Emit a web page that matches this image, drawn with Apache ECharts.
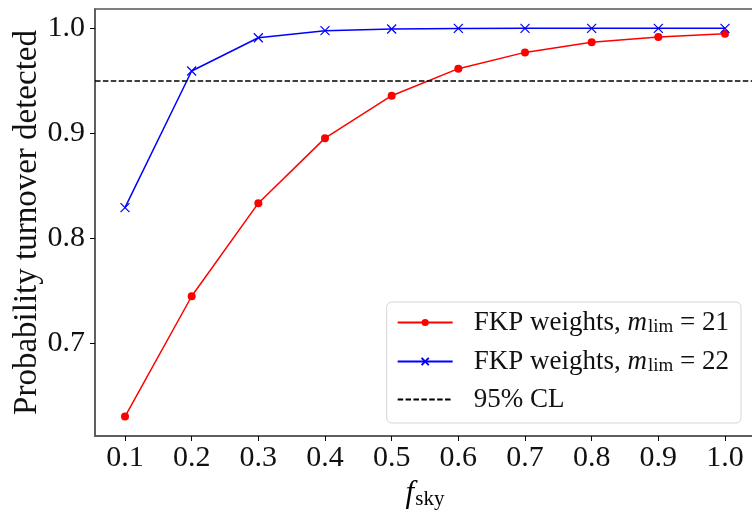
<!DOCTYPE html>
<html>
<head>
<meta charset="utf-8">
<script src="https://cdn.jsdelivr.net/npm/echarts@6/dist/echarts.min.js"></script>
<style>
  html, body { margin: 0; padding: 0; background: #fff; }
  #chart { width: 752px; height: 510px; }
</style>
</head>
<body>
<div id="chart"></div>
<script>
/* Probability of turnover detection vs sky fraction */

var fsky = [0.1, 0.2, 0.3, 0.4, 0.5, 0.6, 0.7, 0.8, 0.9, 1.0];
var probM21 = [0.6305, 0.745, 0.8336, 0.8955, 0.9359, 0.9616, 0.9771, 0.9867, 0.9917, 0.9949];
var probM22 = [0.8293, 0.9594, 0.991, 0.9978, 0.9994, 0.9999, 1.0, 1.0, 1.0, 1.0];
var clLevel = 0.95;
var xTicks = [0.1, 0.2, 0.3, 0.4, 0.5, 0.6, 0.7, 0.8, 0.9, 1.0];
var yTicks = [0.7, 0.8, 0.9, 1.0];
var names = ['FKP weights, m_lim = 21', 'FKP weights, m_lim = 22', '95% CL'];

var serif = '"Liberation Serif", "DejaVu Serif", serif';

function pairs(xs, ys) {
  return xs.map(function(x, i) { return [x, ys[i]]; });
}

var chart = echarts.init(document.getElementById('chart'), null, { renderer: 'canvas' });

chart.setOption({
  animation: false,
  backgroundColor: '#fff',
  grid: {
    left: 95, top: 9, right: -3, bottom: 74,
    outerBoundsMode: 'none', containLabel: false,
    show: true, borderColor: '#555', borderWidth: 1.5
  },
  xAxis: {
    type: 'value', min: 0.055, max: 1.045,
    name: '{i|f}{s|sky}', nameLocation: 'middle', nameGap: 40,
    nameTextStyle: {
      rich: {
        i: { fontFamily: serif, fontStyle: 'italic', fontSize: 31, color: '#000' },
        s: { fontFamily: serif, fontSize: 21, color: '#000', padding: [12, 0, 0, 1] }
      }
    },
    axisLine: { show: true, onZero: false, lineStyle: { color: '#555', width: 1.5 } },
    axisTick: { show: true, length: 5, customValues: xTicks, lineStyle: { color: '#000', width: 1 } },
    axisLabel: {
      customValues: xTicks, margin: 7, fontFamily: serif, fontSize: 30, color: '#111',
      formatter: function(v) { return v.toFixed(1); }
    },
    splitLine: { show: false }
  },
  yAxis: {
    type: 'value', min: 0.612, max: 1.0184,
    name: 'Probability turnover detected', nameLocation: 'middle', nameGap: 51,
    nameMoveOverlap: false,
    nameTextStyle: { fontFamily: serif, fontSize: 33, color: '#111' },
    axisLine: { show: true, lineStyle: { color: '#555', width: 1.5 } },
    axisTick: { show: true, length: 5, customValues: yTicks, lineStyle: { color: '#000', width: 1 } },
    axisLabel: {
      customValues: yTicks, margin: 10, fontFamily: serif, fontSize: 30, color: '#111',
      formatter: function(v) { return v.toFixed(1); }
    },
    splitLine: { show: false }
  },
  legend: {
    orient: 'vertical', right: 11, bottom: 87,
    data: [names[0], names[1], { name: names[2], itemStyle: { opacity: 0 } }],
    itemWidth: 55, itemHeight: 9, itemGap: 10,
    padding: [6, 12, 10, 10],
    backgroundColor: 'rgba(255,255,255,0.85)',
    borderColor: '#d6d6d6', borderWidth: 1, borderRadius: 5,
    formatter: function(name) {
      if (name === names[0]) return '{t|FKP weights, }{i|m}{s|lim}{t| = 21}';
      if (name === names[1]) return '{t|FKP weights, }{i|m}{s|lim}{t| = 22}';
      return '{t|95% CL}';
    },
    textStyle: {
      fontFamily: serif, fontSize: 27, color: '#111', padding: [0, 0, 0, 16],
      rich: {
        t: { fontFamily: serif, fontSize: 27, color: '#111', lineHeight: 32 },
        i: { fontFamily: serif, fontStyle: 'italic', fontSize: 27, color: '#111', lineHeight: 32 },
        s: { fontFamily: serif, fontSize: 19, color: '#111', lineHeight: 32, padding: [10, 0, 0, 1] }
      }
    }
  },
  series: [
    {
      name: names[0], type: 'line', data: pairs(fsky, probM21),
      symbol: 'circle', symbolSize: 8,
      lineStyle: { color: '#ff0000', width: 1.5 },
      itemStyle: { color: '#ff0000' }
    },
    {
      name: names[1], type: 'line', data: pairs(fsky, probM22),
      symbol: 'path://M0,0L10,10M10,0L0,10', symbolSize: 9,
      lineStyle: { color: '#0000ff', width: 1.5 },
      itemStyle: { color: 'rgba(0,0,0,0)', borderColor: '#0000ff', borderWidth: 1.2 }
    },
    {
      name: names[2], type: 'line', data: [],
      symbol: 'none',
      lineStyle: { color: '#000', width: 1.5, type: [5.5, 2.4] },
      itemStyle: { color: '#000' },
      markLine: {
        silent: true, symbol: ['none', 'none'], label: { show: false },
        lineStyle: { color: '#000', width: 1.5, type: [5.5, 2.4] },
        data: [{ yAxis: clLevel }]
      }
    }
  ]
});
</script>
</body>
</html>
